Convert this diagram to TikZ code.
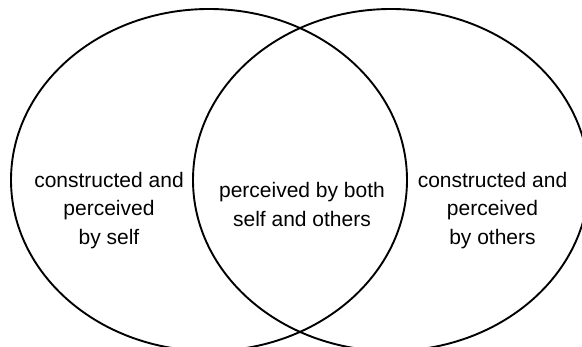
\documentclass[tikz,border=0pt]{standalone}
\usepackage{fontspec}
\setmainfont{Liberation Sans}
\usepackage{tikz}
\usetikzlibrary{shapes.geometric, positioning}
\tikzset{
  setring/.style={draw, ellipse, line width=1.9pt, inner sep=0pt,
                  minimum width=396pt, minimum height=342pt},
  setlabel/.style={align=center, inner sep=0pt,
                   font=\fontsize{21}{28.7}\selectfont}
}

\begin{document}
\begin{tikzpicture}[x=1pt, y=-1pt]

\useasboundingbox (0,0) rectangle (582,347);

% Sets
\node[setring] (self) at (209,180) {};
\node[setring] (others) at (391,180) {};

% Labels
\node[setlabel] (selfonly) at (109,210.5) {constructed and\\perceived\\by self};
\node[setlabel] (both) at (302,204.5) {perceived by both\\self and others};
\node[setlabel] (othersonly) at (492.5,210.5) {constructed and\\perceived\\by others};

\end{tikzpicture}
\end{document}
